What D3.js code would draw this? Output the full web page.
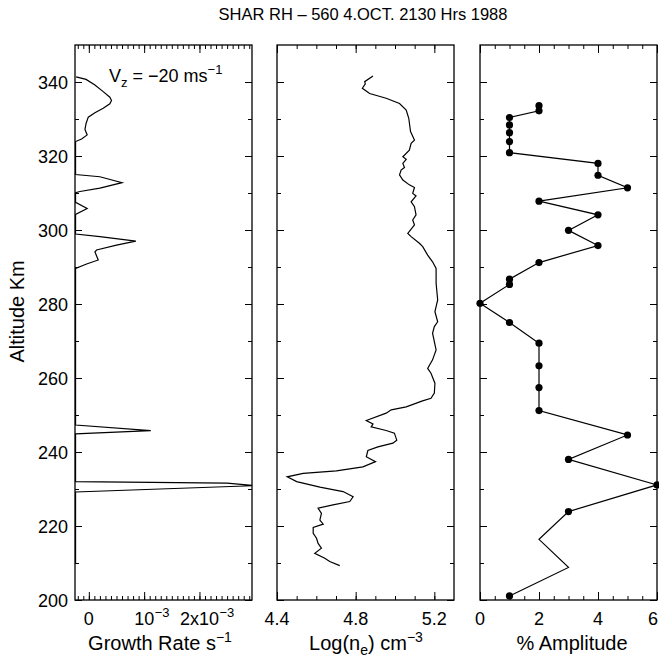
<!DOCTYPE html>
<html>
<head>
<meta charset="utf-8">
<script src="https://cdn.jsdelivr.net/npm/d3@7"></script>
<style>
body { margin: 0; background: #fff; }
text { font-family: "Liberation Sans", Arial, sans-serif; fill: #000; }
</style>
</head>
<body>
<svg width="659" height="659"></svg>
<script>
// altitude axis
const altTicks = [200, 220, 240, 260, 280, 300, 320, 340]
const altMinor = [210, 230, 250, 270, 290, 310, 330]

// growth rate, units of 1e-3 s^-1
const growthAlt = [341.4, 340.7, 339.2, 337.4, 335.9, 335.0, 334.1, 332.9, 331.7, 330.5,
    328.8, 327.2, 325.7, 324.6, 323.9,
    315.0, 314.4, 312.8, 311.3, 310.4, 310.1,
    307.5, 305.8, 304.2,
    298.9, 298.2, 297.0, 295.9, 294.6, 294.1, 291.9, 290.8, 289.6,
    247.3, 245.8, 244.9, 232.0, 231.6, 230.9, 229.2, 210.0]
const growthVal = [-0.23, -0.05, 0.11, 0.26, 0.38, 0.41, 0.38, 0.26, 0.11, -0.01,
    -0.05, -0.07, -0.03, -0.13, -0.24,
    -0.24, 0.2, 0.6, 0.2, -0.16, -0.24,
    -0.24, -0.03, -0.24,
    -0.24, 0.2, 0.85, 0.5, 0.14, 0.11, 0.17, -0.04, -0.24,
    -0.24, 1.12, -0.24, -0.24, 2.5, 3.0, -0.24, -0.24]
const growthTicks = [0, 1, 2]

// log electron density
const neAlt = [341.6, 340.1, 339.5, 338.3, 336.9, 335.6, 334.2, 332.4, 330.2, 326.6,
    324.3, 323.4, 321.6, 319.8, 319.1, 318.0, 316.9, 316.2, 314.9, 313.5,
    312.2, 311.5, 309.9, 309.2, 307.6, 306.3, 304.1, 302.7, 301.4, 299.1,
    298.2, 296.4, 295.5, 293.2, 291.4, 289.6, 285.6, 281.1, 279.3, 277.9,
    275.2, 273.9, 272.1, 267.6, 264.9, 262.6, 261.3, 258.6, 255.9, 254.5,
    253.8, 252.2, 251.4, 250.5, 248.5, 247.6, 246.8, 245.8, 245.1, 243.2,
    242.4, 241.4, 240.4, 238.7, 237.4, 236.0, 234.9, 234.2, 233.3, 232.0,
    230.5, 229.3, 227.9, 226.6, 225.7, 224.8, 223.4, 221.6, 220.5, 219.6,
    218.0, 216.7, 215.3, 214.0, 212.6, 211.3, 210.4, 209.3]
const neVal = [4.888, 4.846, 4.849, 4.834, 4.871, 4.955, 5.023, 5.057, 5.070, 5.079,
    5.099, 5.082, 5.073, 5.040, 5.057, 5.040, 5.048, 5.031, 5.023, 5.040,
    5.073, 5.099, 5.090, 5.107, 5.082, 5.099, 5.107, 5.090, 5.099, 5.065,
    5.082, 5.124, 5.141, 5.166, 5.191, 5.209, 5.209, 5.217, 5.209, 5.203,
    5.217, 5.200, 5.191, 5.209, 5.191, 5.166, 5.183, 5.203, 5.200, 5.183,
    5.140, 5.057, 4.981, 4.955, 4.854, 4.888, 4.879, 4.955, 4.997, 5.009,
    4.989, 4.913, 4.862, 4.854, 4.901, 4.837, 4.702, 4.533, 4.452, 4.500,
    4.618, 4.736, 4.787, 4.770, 4.685, 4.609, 4.626, 4.618, 4.635, 4.584,
    4.584, 4.601, 4.609, 4.626, 4.592, 4.643, 4.668, 4.719]
const neTicks = [4.4, 4.8, 5.2]

// % amplitude
const ampAlt = [333.6, 332.2, 330.4, 328.4, 326.3, 323.9, 320.9, 318.0, 314.8, 311.4,
    307.8, 304.1, 299.9, 295.8, 291.2, 286.7, 285.3, 280.2, 275.0, 269.4,
    263.3, 257.4, 251.2, 244.6, 238.0, 231.1, 223.9, 216.4, 208.8, 201.1]
const ampVal = [2, 2, 1, 1, 1, 1, 1, 4, 4, 5, 2, 4, 3, 4, 2, 1, 1, 0, 1, 2, 2, 2, 2, 5, 3, 6, 3, 2, 3, 1]
const ampDot = ampVal.map((_, i) => i !== 27 && i !== 28)
const ampTicks = [0, 2, 4, 6]

const svg = d3.select("svg")
const yTop = 45, yBottom = 600
const y = d3.scaleLinear().domain([200, 350]).range([yBottom, yTop])

const xGrowth = d3.scaleLinear().domain([-0.25, 2.95]).range([75, 252])
const xNe = d3.scaleLinear().domain([4.4, 5.3]).range([277, 454])
const xAmp = d3.scaleLinear().domain([0, 6]).range([480, 657])

function frame(x, major, minor, id) {
    const [x0, x1] = x.range()
    const g = svg.append("g")
    const put = (axis, tr) => {
        const a = g.append("g").attr("transform", tr).call(axis)
        a.select(".domain").remove()
        a.selectAll("line").attr("stroke", "#000").attr("stroke-width", 1)
    }
    put(d3.axisBottom(x).tickValues(major).tickSize(-8).tickFormat(""), `translate(0,${yBottom})`)
    put(d3.axisBottom(x).tickValues(minor).tickSize(-4).tickFormat(""), `translate(0,${yBottom})`)
    put(d3.axisTop(x).tickValues(major).tickSize(-8).tickFormat(""), `translate(0,${yTop})`)
    put(d3.axisTop(x).tickValues(minor).tickSize(-4).tickFormat(""), `translate(0,${yTop})`)
    put(d3.axisLeft(y).tickValues(altTicks).tickSize(-7).tickFormat(""), `translate(${x0},0)`)
    put(d3.axisLeft(y).tickValues(altMinor).tickSize(-4).tickFormat(""), `translate(${x0},0)`)
    put(d3.axisRight(y).tickValues(altTicks).tickSize(-7).tickFormat(""), `translate(${x1},0)`)
    put(d3.axisRight(y).tickValues(altMinor).tickSize(-4).tickFormat(""), `translate(${x1},0)`)
    g.append("rect")
        .attr("x", x0).attr("y", yTop)
        .attr("width", x1 - x0).attr("height", yBottom - yTop)
        .attr("fill", "none").attr("stroke", "#000").attr("stroke-width", 1.3)
    svg.append("clipPath").attr("id", id)
        .append("rect").attr("x", x0).attr("y", yTop)
        .attr("width", x1 - x0).attr("height", yBottom - yTop)
    return g
}

frame(xGrowth, growthTicks, d3.range(-0.2, 2.95, 0.1).map(v => +v.toFixed(1)), "clipG")
frame(xNe, neTicks, d3.range(4.5, 5.3, 0.1).map(v => +v.toFixed(1)), "clipN")
frame(xAmp, ampTicks, d3.range(0.5, 6, 0.5), "clipA")

// curves
const lineG = d3.line().x(i => xGrowth(growthVal[i])).y(i => y(growthAlt[i]))
svg.append("path")
    .attr("d", lineG(d3.range(growthAlt.length)))
    .attr("clip-path", "url(#clipG)")
    .attr("fill", "none").attr("stroke", "#000").attr("stroke-width", 1.2)

const lineN = d3.line().x(i => xNe(neVal[i])).y(i => y(neAlt[i]))
svg.append("path")
    .attr("d", lineN(d3.range(neAlt.length)))
    .attr("fill", "none").attr("stroke", "#000").attr("stroke-width", 1.2)

const lineA = d3.line().x(i => xAmp(ampVal[i])).y(i => y(ampAlt[i]))
svg.append("path")
    .attr("d", lineA(d3.range(ampAlt.length)))
    .attr("fill", "none").attr("stroke", "#000").attr("stroke-width", 1.2)
svg.selectAll("circle.dot")
    .data(d3.range(ampAlt.length).filter(i => ampDot[i]))
    .enter().append("circle")
    .attr("class", "dot")
    .attr("cx", i => xAmp(ampVal[i]))
    .attr("cy", i => y(ampAlt[i]))
    .attr("r", 3.6)
    .attr("fill", "#000")

// y tick labels
svg.selectAll("text.ylab")
    .data(altTicks)
    .enter().append("text")
    .attr("class", "ylab")
    .attr("x", 68).attr("y", d => y(d) + 6.5)
    .attr("text-anchor", "end")
    .style("font-size", "18px")
    .text(d => d)

svg.append("text")
    .attr("transform", `translate(24,${y(278)}) rotate(-90)`)
    .attr("text-anchor", "middle")
    .style("font-size", "20px")
    .text("Altitude Km")

// x tick labels, base text centred on the tick, exponent hanging after it
function tickLabel(xp, base, sup) {
    const t = svg.append("text")
        .attr("x", xp).attr("y", 625)
        .attr("text-anchor", "middle")
        .style("font-size", "18px")
        .text(base)
    const w = t.node().getComputedTextLength()
    if (xp + w / 2 > 658) t.attr("x", 658 - w / 2)
    if (sup) {
        svg.append("text")
            .attr("x", xp + w / 2 + 0.5).attr("y", 617)
            .style("font-size", "13px")
            .text(sup)
    }
}
tickLabel(xGrowth(0), "0")
tickLabel(xGrowth(1), "10", "−3")
tickLabel(xGrowth(2), "2x10", "−3")
neTicks.forEach(v => tickLabel(xNe(v), v.toFixed(1)))
ampTicks.forEach(v => tickLabel(xAmp(v), String(v)))

// axis titles
const gt = svg.append("text").attr("x", 160).attr("y", 650)
    .attr("text-anchor", "middle").style("font-size", "20px")
gt.append("tspan").text("Growth Rate s")
gt.append("tspan").attr("dy", -8).style("font-size", "14px").text("−1")

const nt = svg.append("text").attr("x", 366).attr("y", 650)
    .attr("text-anchor", "middle").style("font-size", "20px")
nt.append("tspan").text("Log(n")
nt.append("tspan").attr("dy", 5).style("font-size", "14px").text("e")
nt.append("tspan").attr("dy", -5).text(") cm")
nt.append("tspan").attr("dy", -8).style("font-size", "14px").text("−3")

svg.append("text").attr("x", 572).attr("y", 650)
    .attr("text-anchor", "middle").style("font-size", "20px")
    .text("% Amplitude")

// velocity note
const vz = svg.append("text").attr("x", 109).attr("y", 82).style("font-size", "18px")
vz.append("tspan").text("V")
vz.append("tspan").attr("dy", 5).style("font-size", "13px").text("z")
vz.append("tspan").attr("dy", -5).text(" = −20 ms")
vz.append("tspan").attr("dy", -8).style("font-size", "13px").text("−1")

// title
svg.append("text")
    .attr("x", 363).attr("y", 20)
    .attr("text-anchor", "middle")
    .style("font-size", "16.5px")
    .text("SHAR RH – 560 4.OCT. 2130 Hrs 1988")
</script>
</body>
</html>
